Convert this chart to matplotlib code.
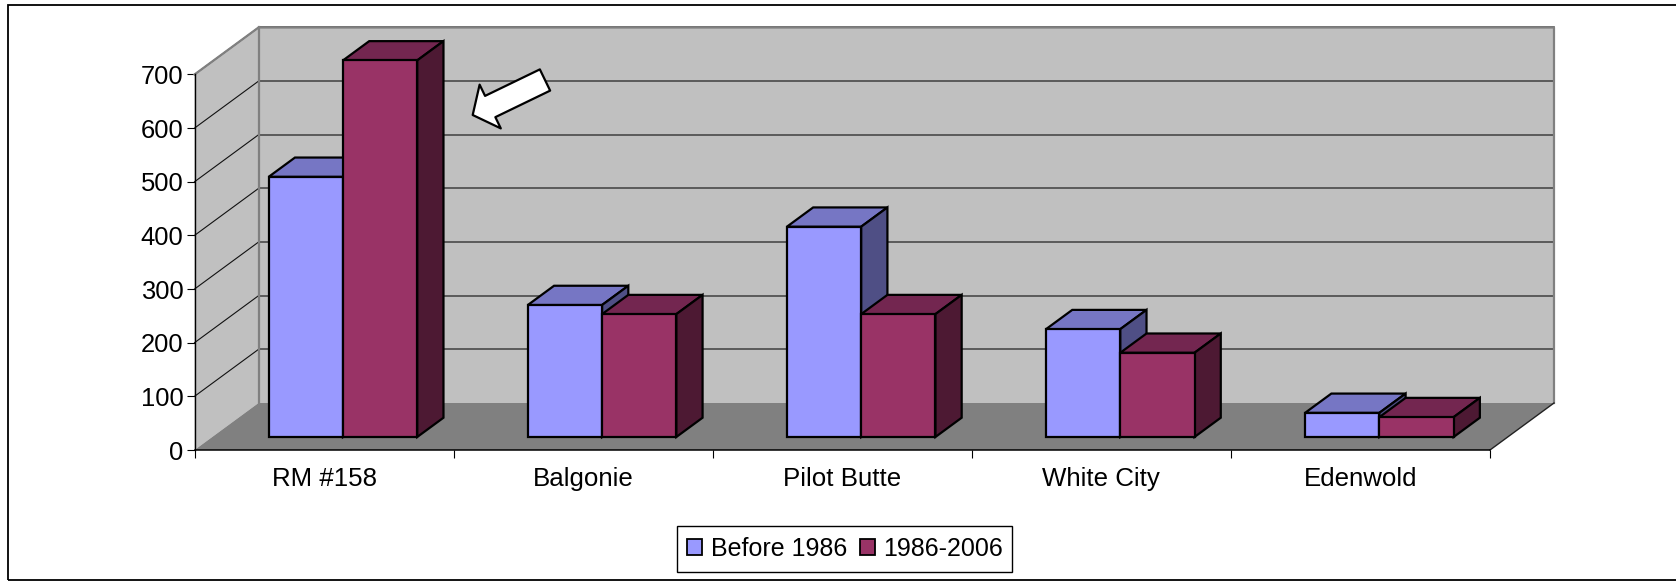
# -*- coding: utf-8 -*-
# Colunas "3D" desenhadas a mão, estilo Excel antigo
import matplotlib
matplotlib.use('Agg')
import matplotlib.pyplot as plt
from matplotlib.patches import Patch, Polygon, Rectangle

plt.rcParams['font.family'] = ['Liberation Sans', 'DejaVu Sans']

# Dados
categories = ['RM #158', 'Balgonie', 'Pilot Butte', 'White City', 'Edenwold']
before_1986 = [485, 246, 392, 201, 45]
from_1986 = [702, 229, 229, 157, 37]
y_ticks = [0, 100, 200, 300, 400, 500, 600, 700]
series_names = ['Before 1986', '1986-2006']

W, H = 1676, 581
fig = plt.figure(figsize=(W / 100, H / 100), dpi=100)

# Eixo cobre o plano frontal da caixa 3D
left, right, top, bottom = 194.5, 1490, 74.5, 450
ax = fig.add_axes([left / W, 1 - bottom / H, (right - left) / W, (bottom - top) / H])
ax.set_xlim(0, len(categories))
ax.set_ylim(0, 700)
ax.patch.set_visible(False)

# Profundidade em unidades dos dados
px_x = len(categories) / (right - left)
px_y = 700 / (bottom - top)
wall_dx = 64 * px_x
wall_dy = 47 * px_y
shift_x, shift_y = 0.277 * wall_dx + 1.2 * px_x, 0.277 * wall_dy
depth_x, depth_y = 0.41 * wall_dx, 0.41 * wall_dy
n = len(categories)
ymax = y_ticks[-1]


def poly(pts, fc, ec='none', lw=0, z=1):
    ax.add_patch(Polygon(pts, closed=True, facecolor=fc, edgecolor=ec, linewidth=lw,
                         zorder=z, clip_on=False, joinstyle='miter'))


# Paredes e chão
poly([(0, 0), (wall_dx, wall_dy), (wall_dx, ymax + wall_dy), (0, ymax)], '#C0C0C0', z=1)
poly([(wall_dx, wall_dy), (n + wall_dx, wall_dy), (n + wall_dx, ymax + wall_dy),
      (wall_dx, ymax + wall_dy)], '#C0C0C0', z=1)
poly([(0, 0), (n, 0), (n + wall_dx, wall_dy), (wall_dx, wall_dy)], '#808080', z=1)

# Linhas de grade
for v in y_ticks[1:]:
    ax.plot([0, wall_dx], [v, v + wall_dy], color='#111111', lw=0.8, zorder=2, clip_on=False)
    ax.plot([wall_dx, n + wall_dx], [v + wall_dy, v + wall_dy], color='#404040', lw=1.1,
            zorder=2, clip_on=False)

# Contorno das paredes
ax.plot([0, wall_dx, n + wall_dx, n + wall_dx], [ymax, ymax + wall_dy, ymax + wall_dy, wall_dy],
        color='#808080', lw=1.6, zorder=2, clip_on=False)
ax.plot([wall_dx, wall_dx], [wall_dy, ymax + wall_dy], color='#808080', lw=1.6, zorder=2,
        clip_on=False)
ax.plot([n, n + wall_dx], [0, wall_dy], color='#222222', lw=1, zorder=2, clip_on=False)


def bar3d(x0, w, h, front, topc, side, z):
    x0 = x0 + shift_x
    y0 = shift_y
    y1 = h + shift_y
    x1 = x0 + w
    poly([(x0, y1), (x1, y1), (x1 + depth_x, y1 + depth_y), (x0 + depth_x, y1 + depth_y)],
         topc, 'black', 1.6, z)
    poly([(x1, y0), (x1 + depth_x, y0 + depth_y), (x1 + depth_x, y1 + depth_y), (x1, y1)],
         side, 'black', 1.6, z)
    poly([(x0, y0), (x1, y0), (x1, y1), (x0, y1)], front, 'black', 1.6, z)


# Barras
bar_w = 0.2866
for i in range(n):
    x_start = i + 0.5 - bar_w
    bar3d(x_start, bar_w, before_1986[i], '#9999FF', '#7676C4', '#4F4F85', 3 + i * 2)
    bar3d(x_start + bar_w, bar_w, from_1986[i], '#993366', '#732650', '#4D1933', 4 + i * 2)

# Eixos e marcas
for s in ['top', 'right']:
    ax.spines[s].set_visible(False)
ax.spines['left'].set_linewidth(1)
ax.spines['bottom'].set_linewidth(1.1)
ax.spines['left'].set_zorder(20)
ax.spines['bottom'].set_zorder(20)
ax.set_yticks(y_ticks)
ax.set_xticks(range(n + 1))
ax.set_xticklabels([])
ax.set_xticks([i + 0.5 for i in range(n)], minor=True)
ax.set_xticklabels(categories, minor=True)
ax.tick_params(axis='x', which='minor', length=0, pad=12, labelsize=18.6)
ax.tick_params(axis='x', which='major', length=6, width=0.8)
ax.tick_params(axis='y', length=6, width=0.8, pad=2, labelsize=18.4)

# Seta branca (anotação do original)
ax.annotate('', xy=(472.7, H - 115), xytext=(545, H - 80), xycoords='figure pixels',
            textcoords='figure pixels', annotation_clip=False, zorder=30,
            arrowprops=dict(arrowstyle='simple,head_length=14,head_width=35,tail_width=17',
                            mutation_scale=1, facecolor='white', edgecolor='black', lw=1.6,
                            shrinkA=0, shrinkB=0))

# Legenda: moldura separada para acertar a caixa
fig.add_artist(Rectangle((677 / W, 1 - 572 / H), 335 / W, 46 / H, transform=fig.transFigure,
                         facecolor='white', edgecolor='black', linewidth=1))
handles = [Patch(facecolor='#9999FF', edgecolor='black', linewidth=1.3, label=series_names[0]),
           Patch(facecolor='#993366', edgecolor='black', linewidth=1.3, label=series_names[1])]
leg = fig.legend(handles=handles, ncol=2, loc='center', bbox_to_anchor=(845 / W, 1 - 549 / H),
                 fontsize=18, frameon=False, handlelength=0.6, handleheight=0.6,
                 handletextpad=0.36, columnspacing=0.5, borderpad=0, borderaxespad=0)
leg.set_zorder(5)

# Moldura externa (sem linha à direita no original)
fig.add_artist(Rectangle((8 / W, 1 / H), 1.0, 1 - 6 / H, transform=fig.transFigure, fill=False,
                         edgecolor='black', linewidth=1.3))

fig.savefig('out.png', dpi=100)
